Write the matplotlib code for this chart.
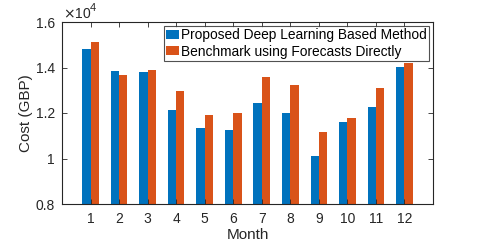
import matplotlib
matplotlib.use("Agg")
import matplotlib.pyplot as plt
import numpy as np

plt.rcParams['font.family'] = ['Liberation Sans', 'DejaVu Sans']

months = np.arange(1, 13)
month_labels = [str(m) for m in months]
proposed = [1.480, 1.383, 1.380, 1.211, 1.136, 1.126, 1.246, 1.198, 1.012, 1.162, 1.228, 1.404]
benchmark = [1.512, 1.368, 1.388, 1.295, 1.192, 1.198, 1.358, 1.322, 1.118, 1.180, 1.310, 1.420]
series_names = ['Proposed Deep Learning Based Method', 'Benchmark using Forecasts Directly']

W, H = 479, 244
fig = plt.figure(figsize=(W/100, H/100), dpi=100)
ax = fig.add_axes([62/W, 1-204/H, (433-62)/W, (204-22)/H])

w = 0.29
ax.bar(months - w/2, proposed, w, color='#0072BD', edgecolor='none', label=series_names[0])
ax.bar(months + w/2, benchmark, w, color='#D95319', edgecolor='none', label=series_names[1])

ax.set_xlim(0, 13)
ax.set_ylim(0.8, 1.6)
ax.set_xticks(months)
ax.set_xticklabels(month_labels)
ax.set_yticks([0.8, 1.0, 1.2, 1.4, 1.6])
ax.set_yticklabels(['0.8', '1', '1.2', '1.4', '1.6'])
ax.tick_params(direction='in', top=True, right=True, labelsize=10, length=3.5, width=0.6,
               colors='#262626', pad=5)
ax.tick_params(axis='x', pad=6)
for s in ax.spines.values():
    s.set_linewidth(0.8)
    s.set_color('#262626')
ax.set_xlabel('Month', fontsize=11, color='#262626', labelpad=1)
ax.set_ylabel('Cost (GBP)', fontsize=11, color='#262626', labelpad=2)
fig.text(63/W, 1-18/H, r'$\times$10', fontsize=10, color='#262626', ha='left', va='baseline')
fig.text(90/W, 1-11/H, '4', fontsize=8, color='#262626', ha='left', va='baseline')

leg = ax.legend(loc='upper right', fontsize=9.9, frameon=True, fancybox=False, edgecolor='#262626',
                handlelength=1.0, handleheight=0.65, handletextpad=0.12, borderpad=0.15, labelspacing=0.18,
                borderaxespad=0.3)
leg.get_frame().set_linewidth(0.8)

fig.savefig('out.png', dpi=100)
